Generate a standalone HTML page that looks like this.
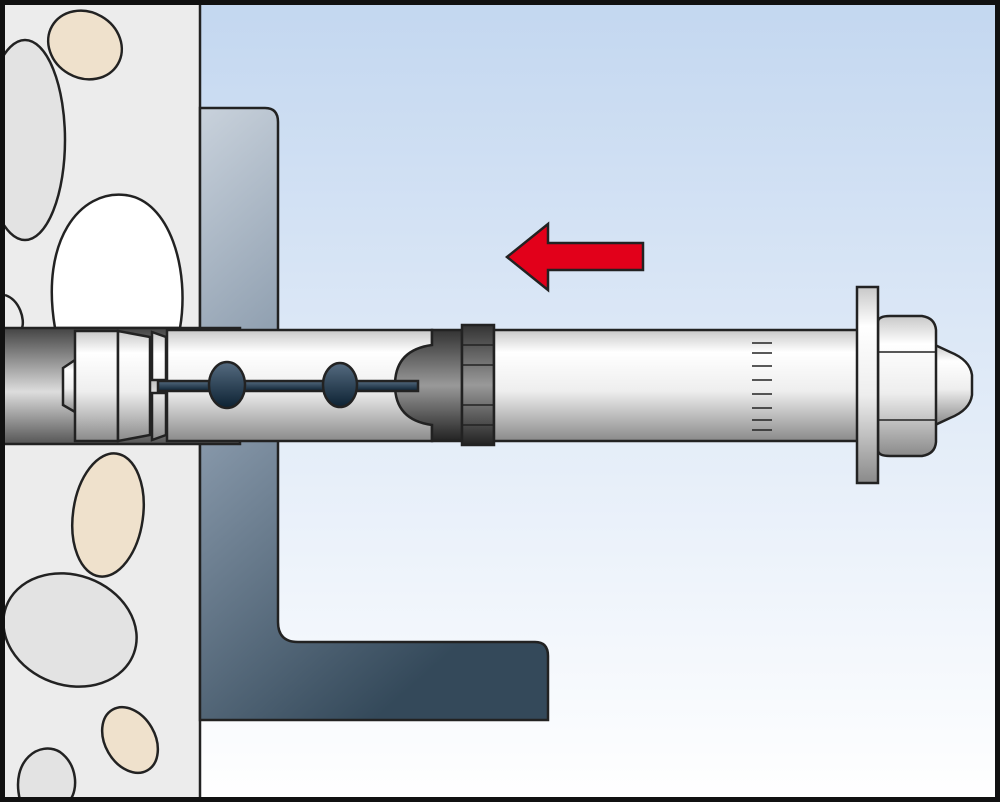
<!DOCTYPE html>
<html><head><style>html,body{margin:0;padding:0;background:#fff}svg{display:block}</style></head><body>
<svg width="1000" height="802" viewBox="0 0 1000 802" xmlns="http://www.w3.org/2000/svg">
<defs>
<linearGradient id="sky" x1="0" y1="0" x2="0" y2="1"><stop offset="0" stop-color="#c3d7f0"/><stop offset="1" stop-color="#ffffff"/></linearGradient>
<linearGradient id="brk" x1="0" y1="0" x2="0.5" y2="1"><stop offset="0" stop-color="#c9d2dc"/><stop offset="0.45" stop-color="#8596a8"/><stop offset="1" stop-color="#34495a"/></linearGradient>
<linearGradient id="met" x1="0" y1="0" x2="0" y2="1"><stop offset="0" stop-color="#c8c8c8"/><stop offset="0.2" stop-color="#ffffff"/><stop offset="0.55" stop-color="#eeeeee"/><stop offset="1" stop-color="#8a8a8a"/></linearGradient>
<linearGradient id="hole" x1="0" y1="0" x2="0" y2="1"><stop offset="0" stop-color="#444"/><stop offset="0.55" stop-color="#ddd"/><stop offset="1" stop-color="#555"/></linearGradient>
<linearGradient id="dk" x1="0" y1="0" x2="0" y2="1"><stop offset="0" stop-color="#333"/><stop offset="0.5" stop-color="#999"/><stop offset="1" stop-color="#222"/></linearGradient>
<linearGradient id="blu" x1="0" y1="0" x2="0" y2="1"><stop offset="0" stop-color="#556b80"/><stop offset="1" stop-color="#0d2233"/></linearGradient>
</defs>
<rect width="1000" height="802" fill="url(#sky)"/>
<rect x="0" y="0" width="200" height="802" fill="#ececec"/>
<g stroke="#222" stroke-width="2.5">
<ellipse cx="85" cy="45" rx="38" ry="33" fill="#efe1cc" transform="rotate(30 85 45)"/>
<ellipse cx="25" cy="140" rx="40" ry="100" fill="#e3e3e3"/>
<path d="M55 328 C40 240 80 190 125 195 C170 200 190 270 180 328 Z" fill="#fff"/>
<path d="M5 295 C20 300 25 320 22 328" fill="none"/>
<ellipse cx="108" cy="515" rx="35" ry="62" fill="#efe1cc" transform="rotate(8 108 515)"/>
<ellipse cx="70" cy="630" rx="68" ry="55" fill="#e3e3e3" transform="rotate(20 70 630)"/>
<ellipse cx="130" cy="740" rx="25" ry="35" fill="#efe1cc" transform="rotate(-30 130 740)"/>
<path d="M20 800 C10 760 40 740 60 752 C78 765 78 790 70 800 Z" fill="#e3e3e3"/>
</g>
<line x1="200" y1="0" x2="200" y2="802" stroke="#222" stroke-width="2.5"/>
<path d="M200 108 H265 Q278 108 278 122 V622 Q278 642 298 642 H535 Q548 642 548 656 V720 H200 Z" fill="url(#brk)" stroke="#222" stroke-width="2.5"/>
<rect x="0" y="328" width="240" height="116" fill="url(#hole)" stroke="#222" stroke-width="2.5"/>
<path d="M507 257 L548 224 V243 H643 V270 H548 V290 Z" fill="#e2001a" stroke="#222" stroke-width="2.5"/>
<g stroke="#222" stroke-width="2.5">
<path d="M75 360 L63 368 V405 L75 412 Z" fill="url(#met)"/>
<rect x="75" y="331" width="43" height="110" fill="url(#met)"/>
<path d="M118 331 L150 337 V435 L118 441 Z" fill="url(#met)"/>
<path d="M152 332 L166 337 V380 H152 Z M152 393 H166 V435 L152 440 Z" fill="url(#met)"/>
<rect x="167" y="330" width="265" height="111" fill="url(#met)"/>
<path d="M432 330 H462 V441 H432 V425 Q395 420 395 385 Q395 350 432 345 Z" fill="url(#dk)"/>
<rect x="462" y="325" width="32" height="120" fill="url(#dk)"/>
<rect x="494" y="330" width="365" height="111" fill="url(#met)"/>
<rect x="158" y="381" width="260" height="10" fill="url(#blu)"/>
<ellipse cx="227" cy="385" rx="18" ry="23" fill="url(#blu)"/>
<ellipse cx="340" cy="385" rx="17" ry="22" fill="url(#blu)"/>
<path d="M935 345 L950 352 Q970 360 972 375 V395 Q970 410 950 418 L935 425 Z" fill="url(#met)"/>
<path d="M878 322 Q878 316 890 316 H922 Q935 318 936 330 V442 Q935 454 922 456 H890 Q878 456 878 450 Z" fill="url(#met)"/>
<rect x="857" y="287" width="21" height="196" fill="url(#met)"/>
</g>
<g stroke="#222" stroke-width="1.5">
<line x1="878" y1="352" x2="936" y2="352"/><line x1="878" y1="420" x2="936" y2="420"/>
<line x1="462" y1="345" x2="494" y2="345"/><line x1="462" y1="365" x2="494" y2="365"/><line x1="462" y1="405" x2="494" y2="405"/><line x1="462" y1="425" x2="494" y2="425"/>
<line x1="752" y1="343" x2="772" y2="343"/><line x1="752" y1="353" x2="772" y2="353"/><line x1="752" y1="366" x2="772" y2="366"/><line x1="752" y1="380" x2="772" y2="380"/><line x1="752" y1="394" x2="772" y2="394"/><line x1="752" y1="408" x2="772" y2="408"/><line x1="752" y1="420" x2="772" y2="420"/><line x1="752" y1="430" x2="772" y2="430"/>
</g>
<rect x="2.5" y="2.5" width="995" height="797" fill="none" stroke="#111" stroke-width="5"/>
</svg>
</body></html>
